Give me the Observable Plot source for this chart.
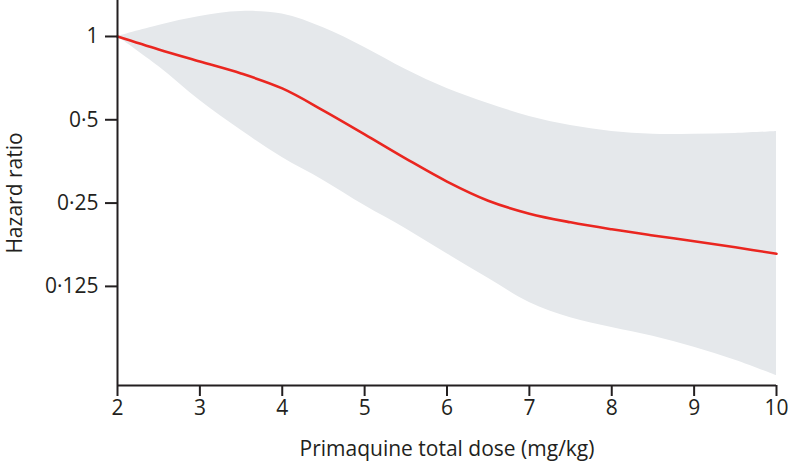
<!DOCTYPE html>
<html>
<head>
<meta charset="utf-8">
<script src="https://cdn.jsdelivr.net/npm/d3@7"></script>
<script src="https://cdn.jsdelivr.net/npm/@observablehq/plot@0.6"></script>
<style>
  html, body { margin: 0; padding: 0; background: #fff; }
</style>
</head>
<body>
<div id="chart"></div>
<script>
// Primaquine total dose (mg/kg)
const dose = [2, 2.5, 3, 3.5, 4, 4.5, 5, 5.5, 6, 6.5, 7, 7.5, 8, 8.5, 9, 9.5, 10];
// Hazard ratio (point estimate)
const hazard = [1, 0.898, 0.812, 0.735, 0.649, 0.540, 0.443, 0.362, 0.299, 0.255, 0.229, 0.213, 0.201, 0.191, 0.182, 0.173, 0.164];
// 95% CI bounds
const lower = [1, 0.779, 0.587, 0.458, 0.365, 0.302, 0.245, 0.202, 0.164, 0.1338, 0.1094, 0.0963, 0.0888, 0.0825, 0.0754, 0.0676, 0.0595];
const upper = [1, 1.096, 1.181, 1.231, 1.205, 1.075, 0.913, 0.760, 0.649, 0.573, 0.514, 0.477, 0.454, 0.443, 0.443, 0.446, 0.454];

const xTicks = [2, 3, 4, 5, 6, 7, 8, 9, 10];
const yTicks = [1, 0.5, 0.25, 0.125];
const xDomain = [2, 10];
const yDomain = [0.0548, 1.349];
const xLabel = "Primaquine total dose (mg/kg)";
const yLabel = "Hazard ratio";

const rows = dose.map((d, i) => ({dose: d, hr: hazard[i], lo: lower[i], hi: upper[i]}));

const ink = "#231f20";
const fmt = d => String(d).replace(".", "\u00b7");

const chart = Plot.plot({
  width: 788,
  height: 465,
  marginLeft: 117,
  marginRight: 12,
  marginTop: 0,
  marginBottom: 80,
  style: {fontFamily: "'Open Sans', sans-serif", fontSize: "21px", color: ink, background: "#fff"},
  x: {domain: xDomain},
  y: {type: "log", base: 2, domain: yDomain},
  marks: [
    Plot.areaY(rows, {x: "dose", y1: "lo", y2: "hi", fill: "#e5e8eb", curve: "catmull-rom"}),
    Plot.lineY(rows, {x: "dose", y: "hr", stroke: "#ea2620", strokeWidth: 2.6, curve: "catmull-rom"}),
    Plot.ruleX([xDomain[0]], {stroke: ink, strokeWidth: 2}),
    Plot.ruleY([yDomain[0]], {stroke: ink, strokeWidth: 2}),
    Plot.axisX({ticks: xTicks, tickSize: 11, tickPadding: 4, strokeWidth: 2, stroke: ink, fill: ink, label: null, fontSize: 21}),
    Plot.axisY({ticks: yTicks, tickFormat: fmt, tickSize: 12, tickPadding: 7, strokeWidth: 2, stroke: ink, fill: ink,
                label: yLabel, labelAnchor: "center", labelOffset: 110, labelArrow: "none", fontSize: 21}),
    Plot.text([xLabel], {text: d => d, frameAnchor: "bottom", lineAnchor: "top", dy: 56, fill: ink, fontSize: 21})
  ]
});
document.getElementById("chart").appendChild(chart);
</script>
</body>
</html>
